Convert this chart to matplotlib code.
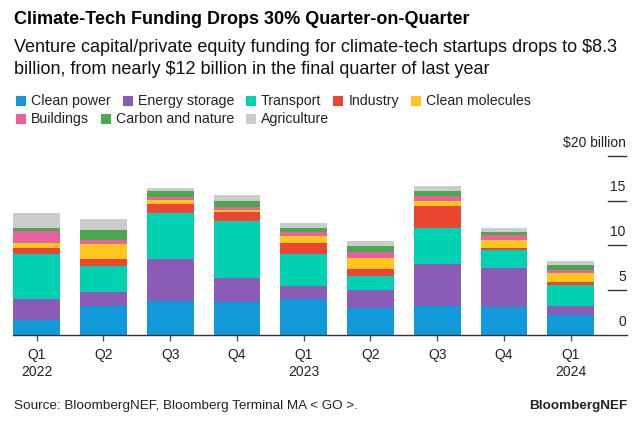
import numpy as np
import matplotlib.pyplot as plt
from matplotlib.patches import Rectangle
import matplotlib.transforms as mtransforms

plt.rcParams['font.family'] = ['Liberation Sans', 'DejaVu Sans']

quarters = ['Q1\n2022', 'Q2', 'Q3', 'Q4', 'Q1\n2023', 'Q2', 'Q3', 'Q4', 'Q1\n2024']
sectors = ['Clean power', 'Energy storage', 'Transport', 'Industry',
           'Clean molecules', 'Buildings', 'Carbon and nature', 'Agriculture']

# $ billion per quarter
clean_power = [1.70, 3.19, 3.78, 3.67, 4.00, 3.04, 3.26, 3.07, 2.26]
energy_storage = [2.33, 1.63, 4.70, 2.74, 1.48, 1.96, 4.63, 4.44, 0.96]
transport = [4.96, 2.93, 5.15, 6.26, 3.59, 1.56, 4.04, 2.00, 2.41]
industry = [0.74, 0.74, 1.00, 1.07, 1.15, 0.85, 2.48, 0.22, 0.30]
clean_molecules = [0.52, 1.63, 0.44, 0.22, 0.78, 1.19, 0.59, 0.89, 1.00]
buildings = [1.30, 0.44, 0.30, 0.37, 0.44, 0.67, 0.56, 0.59, 0.30]
carbon_nature = [0.37, 1.19, 0.74, 0.59, 0.48, 0.63, 0.52, 0.33, 0.56]
agriculture = [1.67, 1.22, 0.26, 0.74, 0.56, 0.56, 0.52, 0.37, 0.48]

series = [clean_power, energy_storage, transport, industry,
          clean_molecules, buildings, carbon_nature, agriculture]
colors = ['#1199da', '#8b5cb5', '#00d1b0', '#ee4433',
          '#ffc61e', '#e9609f', '#4aa84f', '#cccccc']

W, H = 640, 426
fig = plt.figure(figsize=(6.4, 4.26), dpi=100)

def fx(px):
    return px / W

def fy(py):
    return 1 - py / H

ax = fig.add_axes([fx(13), fy(335), fx(614), 179.3 / H])
x = np.arange(len(quarters))
bottom = np.zeros(len(quarters))
for vals, c in zip(series, colors):
    ax.bar(x, vals, bottom=bottom, width=0.7, color=c, linewidth=0)
    bottom += np.array(vals)

ax.set_xlim(-0.355, 8.843)
ax.set_ylim(0, 20)
for s in ['top', 'right', 'left']:
    ax.spines[s].set_visible(False)
ax.spines['bottom'].set_color('#333333')
ax.spines['bottom'].set_linewidth(1)
ax.set_yticks([])
ax.set_xticks(x)
ax.set_xticklabels(quarters, fontsize=10, color='#222222', linespacing=1.3)
ax.tick_params(axis='x', length=4, width=1, color='#555555', pad=5)

# right-hand value labels sitting above short tick lines
trans = mtransforms.blended_transform_factory(ax.transAxes, ax.transData)
for v in [0, 5, 10, 15, 20]:
    if v > 0:
        ax.plot([0.969, 0.998], [v, v], transform=trans, color='#333333',
                lw=1, clip_on=False)
    label = '$20 billion' if v == 20 else str(v)
    ax.annotate(label, xy=(0.998, v), xycoords=trans, xytext=(0, 9.4),
                textcoords='offset points', ha='right', va='center',
                fontsize=10, color='#222222', annotation_clip=False)

# titles
fig.text(fx(14), fy(19), 'Climate-Tech Funding Drops 30% Quarter-on-Quarter',
         fontsize=13, fontweight='bold', va='center', color='#000000')
fig.text(fx(14), fy(47), 'Venture capital/private equity funding for climate-tech startups drops to $8.3',
         fontsize=13, va='center', color='#111111')
fig.text(fx(14), fy(70), 'billion, from nearly $12 billion in the final quarter of last year',
         fontsize=13, va='center', color='#111111')

# legend, laid out as flowing rows
renderer = fig.canvas.get_renderer()
rows = [range(0, 5), range(5, 8)]
row_y = [101, 119]
for row, ry in zip(rows, row_y):
    px = 16
    for i in row:
        fig.patches.append(Rectangle((fx(px), fy(ry + 5)), fx(10), 10 / H,
                                     transform=fig.transFigure, color=colors[i], lw=0))
        t = fig.text(fx(px + 15), fy(ry), sectors[i], fontsize=10.2,
                     va='center', color='#222222')
        bb = t.get_window_extent(renderer)
        px = bb.x1 + 12

# footer
fig.text(fx(14), fy(406), 'Source: BloombergNEF, Bloomberg Terminal MA < GO >.',
         fontsize=9.7, va='center', color='#222222')
fig.text(fx(627), fy(406), 'BloombergNEF', fontsize=9.7, fontweight='bold',
         ha='right', va='center', color='#222222')

fig.savefig('out.png', dpi=100)
